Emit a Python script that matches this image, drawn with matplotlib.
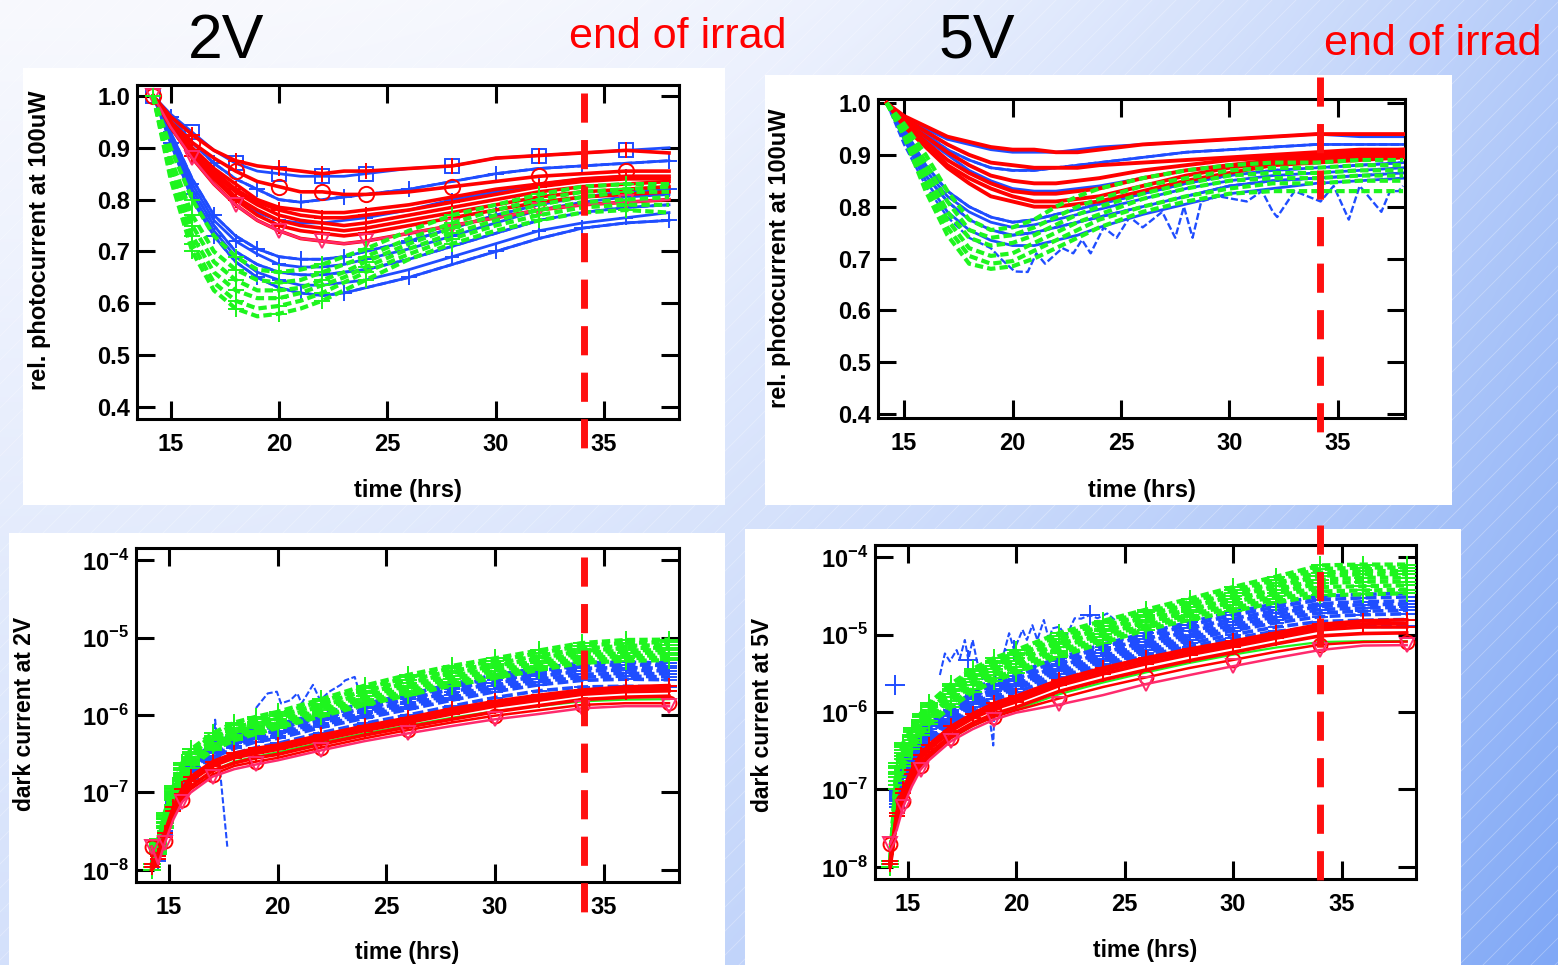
import numpy as np
import matplotlib.pyplot as plt
from matplotlib.patches import Rectangle
from matplotlib.ticker import FixedLocator, FuncFormatter, NullLocator

plt.rcParams['font.family'] = ['Liberation Sans', 'DejaVu Sans']
plt.rcParams['font.weight'] = 'bold'
plt.rcParams['axes.labelweight'] = 'bold'
plt.rcParams['mathtext.fontset'] = 'custom'
plt.rcParams['mathtext.rm'] = 'Liberation Sans'
plt.rcParams['mathtext.bf'] = 'Liberation Sans:bold'

# ---------------- data ----------------
END_IRRAD = [34.07, 34.17, 34.08, 34.0]      # hrs, per panel (tl, tr, bl, br)

# relative photocurrent at 100uW
T_PC = [14.2, 15, 16, 17, 18, 19, 20, 21, 22, 23, 24, 26, 28, 30, 32, 34, 36, 38]

PC2_RED = [
    [1.0, 0.96, 0.925, 0.895, 0.875, 0.865, 0.86, 0.855, 0.85, 0.855, 0.855, 0.86, 0.865, 0.88, 0.885, 0.89, 0.895, 0.89],
    [1.0, 0.95, 0.91, 0.88, 0.855, 0.835, 0.825, 0.815, 0.815, 0.81, 0.81, 0.815, 0.825, 0.835, 0.845, 0.85, 0.855, 0.855],
    [1.0, 0.95, 0.90, 0.86, 0.83, 0.80, 0.785, 0.78, 0.775, 0.775, 0.78, 0.79, 0.805, 0.82, 0.83, 0.84, 0.845, 0.845],
    [1.0, 0.95, 0.895, 0.855, 0.82, 0.795, 0.78, 0.77, 0.765, 0.765, 0.77, 0.78, 0.795, 0.81, 0.825, 0.835, 0.84, 0.84],
    [1.0, 0.945, 0.89, 0.85, 0.815, 0.79, 0.77, 0.76, 0.755, 0.75, 0.755, 0.77, 0.785, 0.80, 0.815, 0.825, 0.83, 0.835],
    [1.0, 0.945, 0.885, 0.845, 0.805, 0.78, 0.76, 0.75, 0.745, 0.74, 0.745, 0.76, 0.775, 0.79, 0.805, 0.815, 0.82, 0.825],
    [1.0, 0.94, 0.885, 0.84, 0.80, 0.77, 0.75, 0.74, 0.735, 0.73, 0.735, 0.75, 0.765, 0.78, 0.795, 0.805, 0.81, 0.815],
    [1.0, 0.94, 0.88, 0.83, 0.79, 0.76, 0.74, 0.725, 0.72, 0.715, 0.72, 0.735, 0.75, 0.765, 0.78, 0.79, 0.795, 0.80],
]
PC2_BLUE = [
    [1.0, 0.965, 0.93, 0.895, 0.87, 0.855, 0.85, 0.845, 0.845, 0.845, 0.85, 0.86, 0.865, 0.88, 0.885, 0.89, 0.895, 0.90],
    [1.0, 0.96, 0.91, 0.87, 0.84, 0.82, 0.80, 0.795, 0.80, 0.805, 0.81, 0.82, 0.835, 0.85, 0.86, 0.865, 0.87, 0.875],
    [1.0, 0.95, 0.89, 0.84, 0.80, 0.775, 0.76, 0.755, 0.755, 0.76, 0.765, 0.78, 0.80, 0.815, 0.83, 0.84, 0.845, 0.845],
    [1.0, 0.93, 0.84, 0.77, 0.73, 0.705, 0.69, 0.685, 0.685, 0.69, 0.70, 0.72, 0.745, 0.77, 0.79, 0.805, 0.815, 0.82],
    [1.0, 0.925, 0.83, 0.76, 0.72, 0.695, 0.675, 0.67, 0.67, 0.675, 0.685, 0.705, 0.73, 0.755, 0.78, 0.795, 0.805, 0.81],
    [1.0, 0.92, 0.82, 0.75, 0.70, 0.675, 0.66, 0.655, 0.655, 0.66, 0.665, 0.685, 0.71, 0.735, 0.76, 0.775, 0.785, 0.79],
    [1.0, 0.915, 0.81, 0.74, 0.69, 0.66, 0.645, 0.635, 0.635, 0.64, 0.645, 0.665, 0.69, 0.715, 0.74, 0.755, 0.765, 0.775],
    [1.0, 0.91, 0.80, 0.73, 0.68, 0.65, 0.63, 0.62, 0.615, 0.62, 0.63, 0.65, 0.675, 0.70, 0.725, 0.745, 0.755, 0.76],
]
PC2_GREEN = [
    [1.0, 0.90, 0.80, 0.73, 0.69, 0.665, 0.66, 0.665, 0.675, 0.69, 0.705, 0.74, 0.77, 0.79, 0.81, 0.825, 0.83, 0.83],
    [1.0, 0.88, 0.77, 0.70, 0.665, 0.645, 0.64, 0.645, 0.66, 0.675, 0.69, 0.725, 0.755, 0.78, 0.80, 0.815, 0.82, 0.825],
    [1.0, 0.87, 0.75, 0.68, 0.645, 0.625, 0.625, 0.63, 0.645, 0.66, 0.68, 0.715, 0.745, 0.77, 0.79, 0.805, 0.815, 0.815],
    [1.0, 0.86, 0.73, 0.66, 0.625, 0.61, 0.61, 0.62, 0.635, 0.65, 0.67, 0.705, 0.735, 0.76, 0.78, 0.795, 0.80, 0.805],
    [1.0, 0.85, 0.715, 0.64, 0.605, 0.59, 0.595, 0.605, 0.62, 0.64, 0.66, 0.695, 0.725, 0.75, 0.77, 0.785, 0.79, 0.79],
    [1.0, 0.84, 0.70, 0.625, 0.59, 0.575, 0.58, 0.59, 0.605, 0.625, 0.645, 0.685, 0.715, 0.74, 0.76, 0.775, 0.78, 0.775],
]

PC5_RED = [
    [1.0, 0.975, 0.955, 0.935, 0.925, 0.915, 0.91, 0.91, 0.905, 0.905, 0.91, 0.92, 0.925, 0.93, 0.935, 0.94, 0.94, 0.94],
    [1.0, 0.97, 0.945, 0.92, 0.90, 0.885, 0.88, 0.875, 0.875, 0.875, 0.88, 0.885, 0.89, 0.895, 0.90, 0.905, 0.91, 0.91],
    [1.0, 0.965, 0.935, 0.905, 0.88, 0.86, 0.85, 0.845, 0.845, 0.85, 0.855, 0.87, 0.88, 0.89, 0.895, 0.90, 0.905, 0.91],
    [1.0, 0.96, 0.925, 0.89, 0.865, 0.845, 0.83, 0.825, 0.825, 0.83, 0.835, 0.855, 0.87, 0.88, 0.89, 0.895, 0.90, 0.905],
    [1.0, 0.96, 0.92, 0.88, 0.855, 0.835, 0.82, 0.81, 0.81, 0.815, 0.82, 0.84, 0.86, 0.875, 0.885, 0.89, 0.895, 0.90],
    [1.0, 0.955, 0.915, 0.875, 0.845, 0.82, 0.81, 0.80, 0.80, 0.805, 0.81, 0.83, 0.85, 0.865, 0.88, 0.885, 0.89, 0.895],
]
PC5_BLUE = [
    [1.0, 0.975, 0.95, 0.93, 0.92, 0.91, 0.905, 0.905, 0.905, 0.91, 0.915, 0.92, 0.925, 0.93, 0.935, 0.94, 0.935, 0.935],
    [1.0, 0.97, 0.94, 0.91, 0.89, 0.875, 0.87, 0.87, 0.875, 0.88, 0.885, 0.895, 0.905, 0.91, 0.915, 0.92, 0.92, 0.92],
    [1.0, 0.965, 0.93, 0.90, 0.87, 0.85, 0.835, 0.83, 0.83, 0.835, 0.84, 0.855, 0.87, 0.88, 0.89, 0.895, 0.90, 0.90],
    [1.0, 0.95, 0.88, 0.83, 0.80, 0.78, 0.77, 0.775, 0.785, 0.795, 0.805, 0.825, 0.845, 0.86, 0.87, 0.875, 0.88, 0.885],
    [1.0, 0.945, 0.87, 0.82, 0.79, 0.77, 0.76, 0.765, 0.775, 0.785, 0.795, 0.815, 0.835, 0.85, 0.86, 0.865, 0.87, 0.875],
    [1.0, 0.94, 0.86, 0.81, 0.775, 0.755, 0.745, 0.75, 0.76, 0.77, 0.78, 0.80, 0.82, 0.84, 0.85, 0.855, 0.86, 0.865],
    [1.0, 0.93, 0.85, 0.79, 0.755, 0.735, 0.725, 0.725, 0.735, 0.745, 0.76, 0.785, 0.805, 0.825, 0.835, 0.845, 0.85, 0.855],
]
PC5_GREEN = [
    [1.0, 0.96, 0.90, 0.83, 0.775, 0.755, 0.76, 0.775, 0.80, 0.82, 0.835, 0.855, 0.87, 0.88, 0.885, 0.885, 0.89, 0.89],
    [1.0, 0.955, 0.885, 0.81, 0.755, 0.74, 0.745, 0.76, 0.78, 0.80, 0.815, 0.84, 0.855, 0.87, 0.875, 0.875, 0.88, 0.88],
    [1.0, 0.95, 0.87, 0.79, 0.74, 0.725, 0.73, 0.745, 0.765, 0.785, 0.80, 0.825, 0.845, 0.86, 0.865, 0.865, 0.87, 0.87],
    [1.0, 0.945, 0.855, 0.775, 0.72, 0.705, 0.71, 0.73, 0.75, 0.77, 0.785, 0.815, 0.835, 0.85, 0.855, 0.855, 0.86, 0.86],
    [1.0, 0.94, 0.84, 0.76, 0.705, 0.69, 0.695, 0.715, 0.735, 0.755, 0.775, 0.80, 0.82, 0.835, 0.845, 0.845, 0.85, 0.85],
    [1.0, 0.935, 0.83, 0.745, 0.69, 0.68, 0.685, 0.70, 0.72, 0.74, 0.76, 0.79, 0.81, 0.825, 0.83, 0.83, 0.83, 0.83],
]
# one noisy blue device at 5V
PC5_NOISY_T = [14.2, 15, 16, 17, 18, 19, 19.5, 20.1, 20.7, 21.1, 21.5, 22.3, 22.8, 23.2, 23.6, 24.2, 24.8,
               25.4, 26.0, 26.9, 27.5, 27.9, 28.3, 28.7, 29.5, 30.8, 31.5, 32.0, 32.2, 33.0, 34.2, 34.8,
               35.5, 36.0, 37.0, 37.4, 37.8, 38.0]
PC5_NOISY = [1.0, 0.92, 0.84, 0.78, 0.74, 0.72, 0.698, 0.675, 0.674, 0.71, 0.69, 0.72, 0.71, 0.736, 0.71,
             0.76, 0.74, 0.78, 0.76, 0.79, 0.74, 0.80, 0.74, 0.81, 0.82, 0.81, 0.83, 0.79, 0.78, 0.83, 0.81,
             0.84, 0.775, 0.84, 0.79, 0.83, 0.83, 0.84]

# dark current, in uA
T_DC = [14.2, 14.5, 14.8, 15.2, 15.6, 16, 17, 18, 19, 20, 22, 24, 26, 28, 30, 32, 34, 36, 38]

DC2_GREEN = [
    [0.012, 0.025, 0.055, 0.12, 0.24, 0.36, 0.58, 0.8, 0.95, 1.1, 1.6, 2.4, 3.3, 4.3, 5.4, 6.8, 8.5, 9.3, 9.4],
    [0.011, 0.024, 0.052, 0.115, 0.225, 0.335, 0.54, 0.74, 0.88, 1.03, 1.5, 2.2, 3.05, 4.0, 5.0, 6.3, 7.8, 8.5, 8.7],
    [0.011, 0.022, 0.05, 0.11, 0.21, 0.31, 0.5, 0.68, 0.82, 0.96, 1.4, 2.05, 2.8, 3.7, 4.6, 5.8, 7.2, 7.8, 8.0],
    [0.01, 0.021, 0.047, 0.105, 0.195, 0.29, 0.47, 0.64, 0.77, 0.9, 1.3, 1.9, 2.6, 3.45, 4.3, 5.4, 6.7, 7.3, 7.4],
    [0.01, 0.02, 0.045, 0.1, 0.18, 0.27, 0.44, 0.6, 0.72, 0.85, 1.22, 1.75, 2.4, 3.2, 4.0, 5.0, 6.3, 6.8, 6.9],
    [0.01, 0.019, 0.042, 0.095, 0.17, 0.255, 0.41, 0.56, 0.67, 0.8, 1.15, 1.62, 2.2, 2.95, 3.7, 4.65, 5.85, 6.3, 6.4],
    [0.01, 0.018, 0.04, 0.09, 0.16, 0.24, 0.39, 0.52, 0.63, 0.75, 1.07, 1.5, 2.05, 2.7, 3.4, 4.3, 5.4, 5.8, 5.9],
    [0.01, 0.017, 0.037, 0.085, 0.15, 0.225, 0.37, 0.5, 0.6, 0.71, 1.0, 1.42, 1.92, 2.55, 3.2, 4.05, 5.05, 5.4, 5.5],
    [0.01, 0.016, 0.035, 0.08, 0.14, 0.21, 0.35, 0.47, 0.57, 0.68, 0.96, 1.35, 1.8, 2.4, 3.0, 3.8, 4.7, 5.0, 5.1],
]
DC2_GREEN_SOLID = [0.01, 0.013, 0.025, 0.05, 0.085, 0.12, 0.19, 0.25, 0.29, 0.33, 0.44, 0.58, 0.73, 0.92, 1.12, 1.3, 1.5, 1.58, 1.6]
DC2_BLUE = [
    [0.012, 0.02, 0.045, 0.1, 0.18, 0.26, 0.42, 0.57, 0.68, 0.76, 1.05, 1.4, 1.85, 2.5, 3.3, 4.0, 4.7, 4.8, 4.7],
    [0.011, 0.019, 0.042, 0.095, 0.17, 0.245, 0.395, 0.535, 0.64, 0.715, 0.98, 1.3, 1.72, 2.3, 3.05, 3.7, 4.35, 4.45, 4.35],
    [0.011, 0.018, 0.04, 0.09, 0.16, 0.23, 0.37, 0.5, 0.6, 0.67, 0.92, 1.22, 1.6, 2.15, 2.8, 3.4, 4.0, 4.1, 4.0],
    [0.01, 0.017, 0.037, 0.085, 0.15, 0.215, 0.345, 0.465, 0.56, 0.625, 0.86, 1.13, 1.48, 1.98, 2.58, 3.15, 3.7, 3.8, 3.7],
    [0.01, 0.016, 0.035, 0.08, 0.14, 0.2, 0.32, 0.43, 0.52, 0.58, 0.8, 1.05, 1.38, 1.82, 2.35, 2.9, 3.35, 3.45, 3.4],
    [0.01, 0.015, 0.032, 0.075, 0.13, 0.185, 0.3, 0.4, 0.485, 0.54, 0.745, 0.98, 1.28, 1.68, 2.18, 2.68, 3.08, 3.18, 3.1],
    [0.01, 0.014, 0.03, 0.07, 0.12, 0.17, 0.28, 0.37, 0.45, 0.5, 0.69, 0.91, 1.18, 1.55, 2.0, 2.45, 2.8, 2.9, 2.85],
    [0.01, 0.013, 0.028, 0.06, 0.1, 0.15, 0.24, 0.32, 0.38, 0.43, 0.59, 0.78, 1.0, 1.3, 1.68, 2.05, 2.3, 2.35, 2.3],
]
DC2_RED = [
    [0.012, 0.015, 0.03, 0.065, 0.11, 0.16, 0.25, 0.32, 0.37, 0.41, 0.55, 0.72, 0.92, 1.2, 1.5, 1.8, 2.1, 2.3, 2.4],
    [0.011, 0.0145, 0.028, 0.06, 0.1, 0.15, 0.235, 0.3, 0.345, 0.385, 0.515, 0.675, 0.86, 1.11, 1.4, 1.68, 1.97, 2.15, 2.22],
    [0.011, 0.014, 0.027, 0.058, 0.095, 0.14, 0.22, 0.28, 0.32, 0.36, 0.48, 0.63, 0.8, 1.03, 1.3, 1.55, 1.85, 2.0, 2.05],
    [0.01, 0.013, 0.025, 0.05, 0.085, 0.12, 0.19, 0.24, 0.28, 0.31, 0.42, 0.55, 0.7, 0.88, 1.1, 1.32, 1.58, 1.7, 1.75],
    [0.02, 0.013, 0.024, 0.048, 0.08, 0.11, 0.17, 0.22, 0.25, 0.28, 0.38, 0.5, 0.64, 0.8, 0.98, 1.15, 1.35, 1.42, 1.42],
    [0.02, 0.012, 0.022, 0.045, 0.075, 0.1, 0.16, 0.2, 0.23, 0.26, 0.35, 0.46, 0.58, 0.72, 0.88, 1.03, 1.22, 1.3, 1.3],
]
DC2_OUT_T = [17.05, 17.12, 17.68, 17.9, 19.0, 19.54, 19.96, 20.15, 20.58, 20.9, 21.1, 21.62, 21.95, 22.37,
             22.9, 23.1, 23.54, 23.75]
DC2_OUT = [0.3, 0.87, 0.02, np.nan, 1.23, 1.9, 2.0, 1.41, 1.55, 1.9, 1.41, 2.45, 1.55, 2.0, 2.45, 2.8, 3.1, 2.0]

DC5_GREEN = [
    [0.012, 0.22, 0.4, 0.62, 0.95, 1.3, 2.3, 3.6, 5.0, 6.3, 10.5, 15, 21, 29, 41, 56, 78, 80, 80],
    [0.012, 0.2, 0.37, 0.58, 0.9, 1.22, 2.15, 3.35, 4.6, 5.8, 9.6, 13.9, 19.5, 26.5, 37, 51, 70, 73, 73],
    [0.012, 0.19, 0.35, 0.55, 0.85, 1.15, 2.0, 3.1, 4.3, 5.4, 8.8, 12.8, 18, 24.5, 34, 46, 63, 66, 66],
    [0.011, 0.17, 0.32, 0.51, 0.8, 1.07, 1.85, 2.9, 3.95, 5.0, 8.1, 11.9, 16.7, 22.7, 31, 42, 57, 60, 60],
    [0.011, 0.16, 0.3, 0.48, 0.74, 1.0, 1.7, 2.7, 3.6, 4.6, 7.5, 11, 15.5, 21, 28.5, 38, 51, 54, 54],
    [0.01, 0.145, 0.27, 0.44, 0.68, 0.92, 1.55, 2.45, 3.3, 4.2, 6.8, 10.1, 14.4, 19.5, 26, 34.5, 46, 48, 48],
    [0.01, 0.13, 0.25, 0.4, 0.62, 0.85, 1.4, 2.2, 3.0, 3.8, 6.2, 9.2, 13.3, 18, 24, 31, 41, 42, 43],
    [0.01, 0.115, 0.22, 0.36, 0.56, 0.77, 1.27, 2.0, 2.75, 3.5, 5.7, 8.5, 12.4, 16.7, 22, 28.5, 36, 37, 38],
    [0.01, 0.1, 0.2, 0.33, 0.5, 0.7, 1.15, 1.8, 2.5, 3.2, 5.2, 7.8, 11.5, 15.5, 20, 26, 32, 33, 34],
]
DC5_GREEN_SOLID = [0.01, 0.035, 0.07, 0.13, 0.2, 0.27, 0.46, 0.66, 0.88, 1.08, 1.7, 2.4, 3.25, 4.3, 5.5, 6.8, 8.0, 8.2, 8.2]
DC5_BLUE = [
    [0.012, 0.1, 0.19, 0.32, 0.5, 0.7, 1.15, 1.8, 2.5, 3.2, 5.0, 7.5, 10.5, 14.5, 19.5, 25, 31, 33, 34],
    [0.011, 0.095, 0.18, 0.3, 0.47, 0.65, 1.07, 1.67, 2.3, 2.95, 4.6, 6.9, 9.6, 13.2, 17.7, 22.7, 28, 29.7, 30.5],
    [0.011, 0.09, 0.17, 0.29, 0.45, 0.6, 1.0, 1.55, 2.15, 2.7, 4.2, 6.3, 8.8, 12, 16, 20.5, 25, 26.5, 27],
    [0.01, 0.085, 0.16, 0.27, 0.42, 0.56, 0.94, 1.45, 2.0, 2.5, 3.9, 5.8, 8.1, 11, 14.6, 18.7, 23, 24.2, 24.7],
    [0.01, 0.08, 0.15, 0.26, 0.4, 0.53, 0.88, 1.35, 1.85, 2.3, 3.6, 5.3, 7.4, 10, 13.3, 17, 21, 22, 22.5],
    [0.01, 0.075, 0.14, 0.24, 0.37, 0.49, 0.82, 1.25, 1.72, 2.15, 3.35, 4.9, 6.8, 9.2, 12.2, 15.6, 19, 20, 20.5],
    [0.01, 0.07, 0.13, 0.23, 0.35, 0.46, 0.77, 1.15, 1.6, 2.0, 3.1, 4.5, 6.3, 8.5, 11.2, 14.2, 17, 18, 18.5],
    [0.01, 0.065, 0.12, 0.21, 0.33, 0.43, 0.72, 1.07, 1.45, 1.8, 2.85, 4.15, 5.85, 7.7, 10, 12.5, 14.7, 15.3, 15.6],
    [0.01, 0.06, 0.11, 0.2, 0.31, 0.4, 0.67, 1.0, 1.3, 1.6, 2.6, 3.8, 5.4, 7.0, 9.0, 11, 12.5, 12.7, 12.8],
]
DC5_RED = [
    [0.012, 0.05, 0.1, 0.18, 0.28, 0.38, 0.65, 0.95, 1.3, 1.6, 2.6, 3.7, 5.0, 6.5, 8.2, 10.5, 13.5, 15, 15.5],
    [0.011, 0.048, 0.095, 0.17, 0.265, 0.355, 0.61, 0.89, 1.2, 1.47, 2.4, 3.4, 4.6, 6.0, 7.6, 9.7, 12.5, 13.7, 14],
    [0.011, 0.045, 0.09, 0.16, 0.25, 0.33, 0.57, 0.83, 1.1, 1.35, 2.2, 3.1, 4.2, 5.5, 7.0, 9.0, 11.5, 12.5, 12.5],
    [0.01, 0.04, 0.08, 0.14, 0.22, 0.29, 0.5, 0.72, 0.95, 1.15, 1.85, 2.6, 3.5, 4.6, 5.9, 7.6, 9.6, 10.3, 10.5],
    [0.02, 0.035, 0.07, 0.12, 0.2, 0.26, 0.46, 0.66, 0.87, 1.05, 1.5, 2.1, 2.8, 3.7, 4.7, 6.0, 7.4, 8.0, 8.1],
    [0.02, 0.03, 0.06, 0.11, 0.18, 0.24, 0.42, 0.6, 0.8, 0.98, 1.25, 1.65, 2.3, 3.0, 3.9, 5.0, 6.3, 7.2, 7.3],
]
DC5_OUT_T = [16.49, 16.72, 16.95, 17.26, 17.41, 17.64, 17.8, 18.0, 18.2, 18.6, 18.95, 19.05, 19.3, 19.68,
             19.91, 20.3, 20.5, 20.75, 20.98, 21.28, 21.52, 21.67, 22.0, 22.3, 22.7, 23.0, 23.4, 23.75,
             24.2, 24.55]
DC5_OUT = [3.0, 5.7, 4.5, 6.3, 4.9, 8.5, 4.7, 8.5, 4.5, 2.0, 0.37, 3.3, 4.1, 10.4, 6.3, 11.5, 8.5, 13.2,
           8.5, 15.4, 8.5, 12.0, 12.6, 9.3, 16.2, 16.0, 17.8, 16.2, 18.7, 15.4]
DC5_STRAY_T = [14.4]
DC5_STRAY = [2.2]

# ---------------- styling ----------------
RED, PINK, BLUE, GREEN = '#ff0000', '#ff2a6d', '#1f4dff', '#1ef51e'
W, H = 1558, 965

fig = plt.figure(figsize=(W / 100, H / 100), dpi=100)

# gradient background with faint diagonal lines
bg = fig.add_axes([0, 0, 1, 1], zorder=-10)
gx, gy = np.meshgrid(np.linspace(0, 1, 400), np.linspace(0, 1, 250))
tt = (1 - gy) * 0.57 * gx ** 2.8 + gy * (0.3 + 0.7 * gx ** 2)
c0 = np.array([248, 249, 254]) / 255
c1 = np.array([128, 168, 246]) / 255
bg.imshow(c0 * (1 - tt[..., None]) + c1 * tt[..., None], extent=[0, W, H, 0],
          aspect='auto', interpolation='bilinear')
for c in np.arange(-H, W, 24):
    bg.plot([c, c + H], [H, 0], color='white', lw=0.6, alpha=0.3)
bg.set_xlim(0, W)
bg.set_ylim(H, 0)
bg.axis('off')

# white boxes behind the plots
for x0, y0, x1, y1 in [(23, 68, 725, 505), (765, 75, 1452, 505), (9, 533, 725, 965), (745, 529, 1461, 965)]:
    fig.add_artist(Rectangle((x0 / W, 1 - y1 / H), (x1 - x0) / W, (y1 - y0) / H,
                             transform=fig.transFigure, facecolor='white', edgecolor='none', zorder=-5))


def add_ax(l, t, r, b):
    return fig.add_axes([l / W, 1 - b / H, (r - l) / W, (b - t) / H])


def style(ax, xlim, ylim, log=False):
    ax.set_xlim(*xlim)
    ax.set_ylim(*ylim)
    for s in ax.spines.values():
        s.set_linewidth(2.2)
    ax.xaxis.set_major_locator(FixedLocator([15, 20, 25, 30, 35]))
    if log:
        ax.set_yscale('log')
        ax.yaxis.set_major_locator(FixedLocator([1e-8, 1e-7, 1e-6, 1e-5, 1e-4]))
        ax.yaxis.set_minor_locator(NullLocator())
        ax.yaxis.set_major_formatter(FuncFormatter(
            lambda v, p: r'$\mathbf{10}^{\mathbf{%d}}$' % round(np.log10(v))))
    else:
        ax.yaxis.set_major_locator(FixedLocator([0.4, 0.5, 0.6, 0.7, 0.8, 0.9, 1.0]))
        ax.yaxis.set_major_formatter(FuncFormatter(lambda v, p: '%.1f' % v))
    ax.tick_params(which='major', direction='in', length=13, width=2.2,
                   top=True, right=True, labelsize=17)
    ax.tick_params(axis='x', pad=10)
    ax.tick_params(axis='y', pad=5)
    ax.set_facecolor('white')


def draw(ax, t, curves, color, ls, lw, marks, ms=9, every=2, z=2, scale=1.0):
    for y, m in zip(curves, marks):
        ax.plot(t, np.array(y) * scale, color=color, ls=ls, lw=lw, marker=m, ms=ms,
                mfc='none', mew=1.4, markevery=every, zorder=z)


def irrad(ax, x, y0, y1):
    ln, = ax.plot([x, x], [y0, y1], transform=ax.get_xaxis_transform(), color='#ff1010',
                  lw=5, clip_on=False, zorder=10, solid_capstyle='butt')
    ln.set_dashes((4.2, 2.5))


GDASH = (0, (2.0, 1.0))
BDASH = (0, (3.0, 1.2))

# ---- top left: photocurrent 2V
ax = add_ax(137, 85, 679, 419)
style(ax, (13.45, 38.46), (0.377, 1.021))
draw(ax, T_PC, PC2_BLUE, BLUE, '-', 2.0, ['s', None, '+', None, '+', None, '+', None], ms=10)
draw(ax, T_PC, PC2_BLUE[1::2], BLUE, BDASH, 2.0, ['+', '+', None, '+'], ms=12, every=(1, 2))
draw(ax, T_PC, PC2_RED, RED, '-', 2.6, ['+', 'o', None, '+', None, None, '+', None], ms=11, z=3)
draw(ax, T_PC, PC2_RED[-1:], PINK, '-', 1.8, ['v'], ms=10, z=3)
draw(ax, T_PC, PC2_GREEN, GREEN, GDASH, 3.0, ['+'] * 6, ms=12, z=4)
ax.set_ylabel('rel. photocurrent at 100uW', fontsize=17, va='center')
ax.yaxis.set_label_coords(-0.179, 0.536)
ax.set_xlabel('time (hrs)', fontsize=17, va='center')
ax.xaxis.set_label_coords(0.5, -0.213)
irrad(ax, END_IRRAD[0], 0.976, -0.09)

# ---- top right: photocurrent 5V
ax = add_ax(878, 99, 1405, 418)
style(ax, (13.80, 38.09), (0.3923, 1.0077))
draw(ax, T_PC, PC5_BLUE, BLUE, '-', 2.0, [None] * 7)
draw(ax, T_PC, PC5_BLUE[1::2], BLUE, BDASH, 2.0, [None] * 4)
ax.plot(PC5_NOISY_T, PC5_NOISY, color=BLUE, ls=BDASH, lw=1.7, zorder=2)
draw(ax, T_PC, PC5_RED, RED, '-', 2.8, [None] * 6, z=3)
draw(ax, T_PC, PC5_GREEN, GREEN, GDASH, 3.0, [None] * 6, z=4)
ax.set_ylabel('rel. photocurrent at 100uW', fontsize=17, va='center')
ax.yaxis.set_label_coords(-0.186, 0.50)
ax.set_xlabel('time (hrs)', fontsize=17, va='center')
ax.xaxis.set_label_coords(0.5, -0.226)
irrad(ax, END_IRRAD[1], 1.069, -0.047)

# ---- bottom left: dark current 2V
ax = add_ax(136, 548, 679, 882)
style(ax, (13.48, 38.46), (10 ** -8.155, 10 ** -3.845), log=True)
draw(ax, T_DC, DC2_BLUE, BLUE, BDASH, 2.6, ['+'] * 8, ms=12, every=1, scale=1e-6)
ax.plot(DC2_OUT_T, np.array(DC2_OUT) * 1e-6, color=BLUE, ls=BDASH, lw=1.5, zorder=2)
draw(ax, T_DC, DC2_GREEN, GREEN, GDASH, 3.0, ['+'] * 9, ms=13, every=1, z=3, scale=1e-6)
draw(ax, T_DC, [DC2_GREEN_SOLID], GREEN, '-', 1.6, [None], z=3, scale=1e-6)
draw(ax, T_DC, DC2_RED[:4], RED, '-', 2.6, ['+', None, '+', None], ms=11, every=1, scale=1e-6, z=4)
draw(ax, T_DC, DC2_RED[4:5], RED, '-', 1.8, ['o'], ms=10, scale=1e-6, z=4)
draw(ax, T_DC, DC2_RED[5:], PINK, '-', 1.8, ['v'], ms=10, scale=1e-6, z=4)
ax.set_ylabel('dark current at 2V', fontsize=16.5, va='center')
ax.yaxis.set_label_coords(-0.206, 0.503)
ax.set_xlabel('time (hrs)', fontsize=16.5, va='center')
ax.xaxis.set_label_coords(0.5, -0.21)
irrad(ax, END_IRRAD[2], 0.973, -0.093)

# ---- bottom right: dark current 5V
ax = add_ax(875, 545, 1416, 879)
style(ax, (13.50, 38.43), (10 ** -8.155, 10 ** -3.845), log=True)
draw(ax, T_DC, DC5_BLUE, BLUE, BDASH, 2.6, ['+'] * 9, ms=12, every=1, scale=1e-6)
ax.plot(DC5_OUT_T, np.array(DC5_OUT) * 1e-6, color=BLUE, ls=BDASH, lw=1.5, marker='+', ms=14,
        mew=1.4, markevery=[6, 14, 26], zorder=2)
ax.plot(DC5_STRAY_T, np.array(DC5_STRAY) * 1e-6, ls='none', marker='+', ms=14, mew=1.4, color=BLUE)
draw(ax, T_DC, DC5_GREEN, GREEN, GDASH, 3.0, ['+'] * 9, ms=13, every=1, z=3, scale=1e-6)
draw(ax, T_DC, [DC5_GREEN_SOLID], GREEN, '-', 1.6, [None], z=3, scale=1e-6)
draw(ax, T_DC, DC5_RED[:4], RED, '-', 2.6, ['+', None, '+', None], ms=11, every=1, scale=1e-6, z=4)
draw(ax, T_DC, DC5_RED[4:5], RED, '-', 1.8, ['o'], ms=10, scale=1e-6, z=4)
draw(ax, T_DC, DC5_RED[5:], PINK, '-', 1.8, ['v'], ms=10, scale=1e-6, z=4)
ax.set_ylabel('dark current at 5V', fontsize=16.5, va='center')
ax.yaxis.set_label_coords(-0.208, 0.49)
ax.set_xlabel('time (hrs)', fontsize=16.5, va='center')
ax.xaxis.set_label_coords(0.5, -0.213)
irrad(ax, END_IRRAD[3], 1.06, -0.006)

# headings
fig.text(226 / W, 1 - 58 / H, '2V', fontsize=45, fontweight='normal', ha='center', va='baseline')
fig.text(977 / W, 1 - 58 / H, '5V', fontsize=45, fontweight='normal', ha='center', va='baseline')
fig.text(677.5 / W, 1 - 48 / H, 'end of irrad', fontsize=31, fontweight='normal', color='#ff0000',
         ha='center', va='baseline')
fig.text(1433 / W, 1 - 55 / H, 'end of irrad', fontsize=31, fontweight='normal', color='#ff0000',
         ha='center', va='baseline')

fig.savefig('out.png', dpi=100)
